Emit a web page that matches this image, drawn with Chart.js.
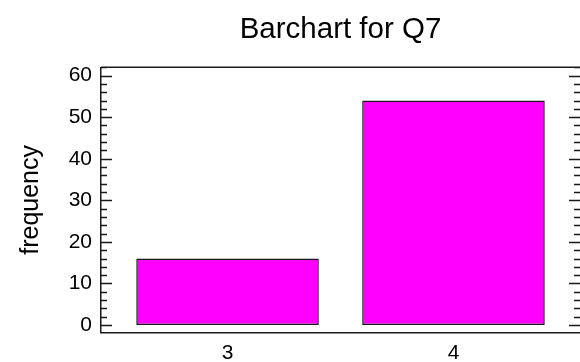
<!DOCTYPE html>
<html>
<head>
<meta charset="utf-8">
<script src="https://cdn.jsdelivr.net/npm/chart.js@4.4.0/dist/chart.umd.min.js"></script>
<style>
  html, body { margin: 0; padding: 0; background: #fff; }
</style>
</head>
<body>
<canvas id="chart" width="580" height="362"></canvas>
<script>
// Q7 answers and how often each one came up
const categories = ["3", "4"];
const catValues = [3, 4];
const frequencies = [16, 54];
const yTicks = [0, 10, 20, 30, 40, 50, 60];

const FONT = "'Liberation Sans', Arial, Helvetica, sans-serif";
const INK = "#1a1a1a";

// inward tick marks on both sides + top edge of the frame
const frameTicks = {
  id: "frameTicks",
  afterDatasetsDraw(chart) {
    const { ctx, chartArea: a, scales: { y } } = chart;
    ctx.save();
    ctx.strokeStyle = INK;
    ctx.lineWidth = 1.5;
    ctx.beginPath();
    ctx.moveTo(a.left, a.top);
    ctx.lineTo(a.right, a.top);
    for (let v = 0; v <= y.max; v += 2) {
      const py = Math.round(y.getPixelForValue(v)) + 0.5;
      const len = v % 10 === 0 ? 11 : 6;
      ctx.moveTo(a.left, py);
      ctx.lineTo(a.left + len, py);
      ctx.moveTo(a.right, py);
      ctx.lineTo(a.right - len, py);
    }
    ctx.stroke();
    ctx.restore();
  }
};

new Chart(document.getElementById("chart"), {
  type: "bar",
  data: {
    datasets: [{
      data: catValues.map((x, i) => ({ x: x, y: frequencies[i] })),
      backgroundColor: "#ff00ff",
      borderColor: INK,
      borderWidth: 1.5,
      borderSkipped: false,
      barPercentage: 0.808,
      categoryPercentage: 1
    }]
  },
  options: {
    responsive: false,
    animation: false,
    layout: { padding: 0 },
    plugins: {
      legend: { display: false },
      tooltip: { enabled: false },
      title: {
        display: true,
        text: "Barchart for Q7",
        fullSize: false,
        color: "#000",
        font: { family: FONT, size: 29.5, weight: "normal" },
        padding: { top: 12.3, bottom: 19.6 }
      }
    },
    scales: {
      x: {
        type: "linear",
        offset: false,
        min: 2.44,
        max: 4.56,
        afterBuildTicks: s => { s.ticks = catValues.map(v => ({ value: v })); },
        afterFit: s => { s.height = 29.5; },
        grid: { display: false, drawTicks: false },
        border: { display: true, color: INK, width: 1.5 },
        ticks: {
          padding: 8,
          color: "#000",
          font: { family: FONT, size: 21 },
          callback: v => categories[catValues.indexOf(v)]
        }
      },
      y: {
        min: -1.8,
        max: 62,
        afterBuildTicks: s => { s.ticks = yTicks.map(v => ({ value: v })); },
        afterFit: s => { s.width = 101; },
        grid: { display: false, drawTicks: false },
        border: { display: true, color: INK, width: 1.5 },
        ticks: {
          padding: 9,
          color: "#000",
          font: { family: FONT, size: 21 }
        },
        title: {
          display: true,
          text: "frequency",
          color: "#000",
          font: { family: FONT, size: 25 },
          padding: { top: 16, bottom: 0 }
        }
      }
    }
  },
  plugins: [frameTicks]
});
</script>
</body>
</html>
